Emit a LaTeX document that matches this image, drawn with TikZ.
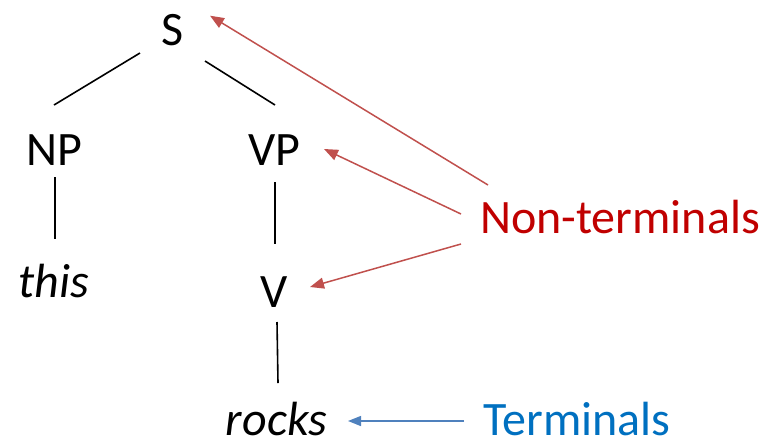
\documentclass[tikz,border=0pt]{standalone}
\usepackage{fontspec}
\setmainfont{Carlito}
\usetikzlibrary{arrows.meta}
\definecolor{ntred}{HTML}{C00000}
\definecolor{ntarrow}{HTML}{C0504D}
\definecolor{tblue}{HTML}{0070C0}
\definecolor{tarrow}{HTML}{4F81BD}
\begin{document}
\begin{tikzpicture}[x=1pt,y=-1pt,
  word/.style={anchor=base,inner sep=0pt,font=\fontsize{48}{56}\selectfont},
  leaf/.style={word,font=\fontsize{48}{56}\selectfont\itshape},
  branch/.style={line width=1.6pt,black},
  ntlink/.style={line width=1.5pt,ntarrow,-{Triangle[length=14pt,width=11pt]}},
  tlink/.style={line width=1.5pt,tarrow,-{Triangle[length=13pt,width=10pt]}}]
  \useasboundingbox (0,0) rectangle (763,440);
  % parse tree
  \node[word] (S)  at (172.5,45) {S};
  \node[word] (NP) at (54,165) {NP};
  \node[word] (VP) at (274.5,165) {VP};
  \node[leaf] (this) at (53.5,297) {this};
  \node[word] (V)  at (274.5,307) {V};
  \node[leaf] (rocks) at (276.5,435) {rocks};
  \draw[branch] ([shift={(-32.5,8)}]S.base) -- ([shift={(0,-60)}]NP.base);
  \draw[branch] ([shift={(32.5,16)}]S.base) -- ([shift={(0.5,-60)}]VP.base);
  \draw[branch] ([shift={(1,12)}]NP.base) -- ([shift={(1.5,-58)}]this.base);
  \draw[branch] ([shift={(0.5,17)}]VP.base) -- ([shift={(0.5,-63)}]V.base);
  \draw[branch] ([shift={(2.5,15)}]V.base) -- ([shift={(1.5,-52)}]rocks.base);
  % labels
  \node[word,text=ntred] (NT) at (620,233) {Non-terminals};
  \node[word,text=tblue] (T) at (577,435) {Terminals};
  \draw[ntlink] ([shift={(-132,-48)}]NT.base) -- ([shift={(37.5,-29.3)}]S.base);
  \draw[ntlink] ([shift={(-159,-19)}]NT.base) -- ([shift={(49.5,-16)}]VP.base);
  \draw[ntlink] ([shift={(-159,11)}]NT.base) -- ([shift={(35.5,-20)}]V.base);
  \draw[tlink] ([shift={(-113,-14)}]T.base) -- ([shift={(71.5,-14)}]rocks.base);
\end{tikzpicture}
\end{document}
